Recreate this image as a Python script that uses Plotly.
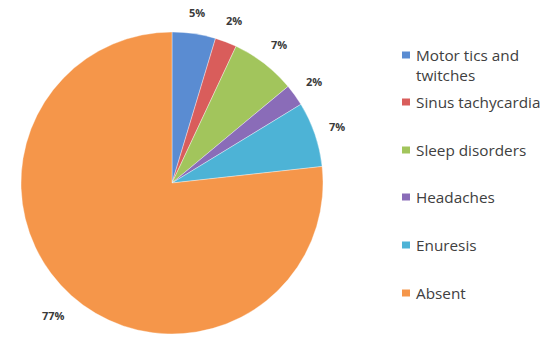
import math
import plotly.graph_objects as go

W, H = 549, 340

categories = ["Motor tics and<br>twitches", "Sinus tachycardia", "Sleep disorders",
              "Headaches", "Enuresis", "Absent"]
counts = [2, 1, 3, 1, 3, 33]
colors = ["#5A8CD2", "#D95D5B", "#A2C55C", "#8A6CB8", "#4DB3D6", "#F5964A"]

# pie geometry (pixels)
cx, cy, r = 172, 183, 151

fig = go.Figure(go.Pie(
    labels=categories,
    values=counts,
    sort=False,
    direction="clockwise",
    rotation=0,
    marker=dict(colors=colors, line=dict(color="rgba(255,255,255,0.6)", width=0.6)),
    textposition="none",
    showlegend=False,
    hoverinfo="label+percent",
    domain=dict(x=[(cx - r) / W, (cx + r) / W],
                y=[1 - (cy + r) / H, 1 - (cy - r) / H]),
))

shapes = []
annotations = []

# percentage labels outside each slice (derived from the counts)
total = sum(counts)
cum = 0
for v in counts:
    mid = (cum + v / 2) / total * 2 * math.pi
    cum += v
    txt = f"{round(100 * v / total)}%"
    w = 8 * len(txt)
    h = 12
    s, c = math.sin(mid), math.cos(mid)
    dist = r + 14 + (w / 2) * abs(s) + (h / 2) * abs(c)
    px = cx + dist * s
    py = cy - dist * c
    annotations.append(dict(xref="paper", yref="paper", x=px / W, y=1 - py / H,
                            xanchor="center", yanchor="middle", showarrow=False,
                            text=f"<b>{txt}</b>",
                            font=dict(family="Open Sans", size=11, color="#3a3a3a")))

# manual legend
legend_y = [55, 102, 150, 197, 245, 293]
legend_x_sq = 406
legend_x_txt = 414
for cat, col, py in zip(categories, colors, legend_y):
    shapes.append(dict(type="rect", xref="paper", yref="paper",
                       x0=(legend_x_sq - 4) / W, x1=(legend_x_sq + 4) / W,
                       y0=1 - (py + 3.5) / H, y1=1 - (py - 3.5) / H,
                       fillcolor=col, line=dict(width=0)))
    annotations.append(dict(xref="paper", yref="paper",
                            x=legend_x_txt / W, y=1 - (py - 12) / H,
                            xanchor="left", yanchor="top", align="left",
                            text=cat, showarrow=False,
                            font=dict(family="Open Sans", size=15.3, color="#404040")))

fig.update_layout(
    width=W, height=H,
    margin=dict(l=0, r=0, t=0, b=0),
    paper_bgcolor="white",
    plot_bgcolor="white",
    shapes=shapes,
    annotations=annotations,
)

fig.write_html("out.html")
